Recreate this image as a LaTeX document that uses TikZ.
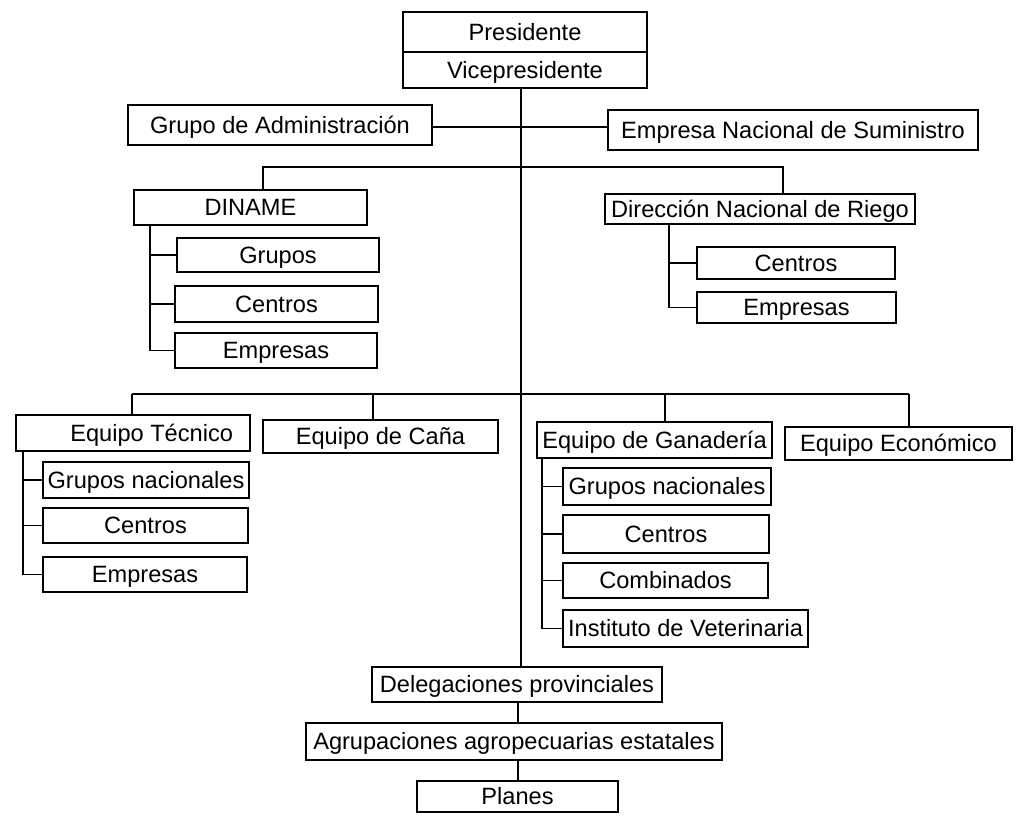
\documentclass[tikz,border=0pt]{standalone}
\usepackage{fontspec}
\newfontfamily\boxfont{Liberation Sans}
\begin{document}
\begin{tikzpicture}[x=1pt,y=-1pt,
  box/.style={draw, line width=1.6pt, inner sep=1pt, outer sep=0pt, anchor=north west,
    text height=17pt, text depth=1pt,
    font={\boxfont\fontsize{23.6}{28}\selectfont}},
  link/.style={line width=1.8pt}]
\useasboundingbox (0,0) rectangle (1017,817);

% top of the hierarchy
\node[box, minimum width=244, minimum height=40] (pres) at (403,12) {Presidente};
\node[box, minimum width=244, minimum height=36] (vice) at (403,52) {Vicepresidente};
\node[box, minimum width=304, minimum height=40] (gadm) at (128,105) {Grupo de Administración};
\node[box, minimum width=370, minimum height=40] (emp) at (608,110) {Empresa Nacional de Suministro};

% DINAME branch
\node[box, minimum width=233, minimum height=35] (din) at (134,190) {DINAME};
\node[box, minimum width=202, minimum height=34] (dgr) at (177,238) {Grupos};
\node[box, minimum width=203, minimum height=36] (dce) at (175,286) {Centros};
\node[box, minimum width=202, minimum height=35] (dem) at (175,333) {Empresas};

% irrigation branch
\node[box, minimum width=310, minimum height=30] (rie) at (605,194) {Dirección Nacional de Riego};
\node[box, minimum width=198, minimum height=32] (rce) at (697,247) {Centros};
\node[box, minimum width=199, minimum height=31] (rem) at (697,292) {Empresas};

% working teams
\node[box, inner xsep=17pt, text width=200, align=flush right, minimum height=36] (tec) at (16,415) {Equipo Técnico};
\node[box, minimum width=235, minimum height=33] (cana) at (263,420) {Equipo de Caña};
\node[box, minimum width=235, minimum height=36] (gan) at (537,422) {Equipo de Ganadería};
\node[box, minimum width=227, minimum height=33] (eco) at (785,427) {Equipo Económico};

\node[box, minimum width=206, minimum height=36] (tgn) at (43,462) {Grupos nacionales};
\node[box, minimum width=205, minimum height=35] (tce) at (43,508) {Centros};
\node[box, minimum width=204, minimum height=35] (tem) at (43,557) {Empresas};

\node[box, minimum width=208, minimum height=37] (ggn) at (563,468) {Grupos nacionales};
\node[box, minimum width=206, minimum height=38] (gce) at (563,515) {Centros};
\node[box, minimum width=205, minimum height=35] (gco) at (563,563) {Combinados};
\node[box, minimum width=245, minimum height=37] (gin) at (563,610) {Instituto de Veterinaria};

% lower levels
\node[box, minimum width=290, minimum height=35] (del) at (372,667) {Delegaciones provinciales};
\node[box, minimum width=416, minimum height=37] (agr) at (306,723) {Agrupaciones agropecuarias estatales};
\node[box, minimum width=201, minimum height=31] (pla) at (417,781) {Planes};

% junction points
\coordinate (tk) at (521,88);
\coordinate (j1) at (521,127);
\coordinate (b2l) at (263,167);
\coordinate (b2r) at (783,167);
\coordinate (ds) at (150,225);
\coordinate (rs) at (669,224);
\coordinate (v1) at (132,394);
\coordinate (v2) at (373,394);
\coordinate (v3) at (665,394);
\coordinate (v4) at (909,394);
\coordinate (ts) at (23,451);
\coordinate (gs) at (542,458);
\coordinate (tb) at (518,702);

% main trunk
\draw[link] (tk) -- (tk |- del.north);
\draw[link] (tb) -- (tb |- agr.north);
\draw[link] (tb |- agr.south) -- (tb |- pla.north);

% staff units beside the top
\draw[link] (gadm.east |- j1) -- (emp.west |- j1);

% national directorates
\draw[link] (b2l |- din.north) |- (b2r) -- (b2r |- rie.north);
\draw[link] (ds) |- (dgr.west);
\draw[link] (ds) |- (dce.west);
\draw[link] (ds) |- (dem.west);
\draw[link] (rs) |- (rce.west);
\draw[link] (rs) |- (rem.west);

% teams
\draw[link] (v1) -- (v4);
\draw[link] (v1) -- (v1 |- tec.north);
\draw[link] (v2) -- (v2 |- cana.north);
\draw[link] (v3) -- (v3 |- gan.north);
\draw[link] (v4) -- (v4 |- eco.north);
\draw[link] (ts) |- (tgn.west);
\draw[link] (ts) |- (tce.west);
\draw[link] (ts) |- (tem.west);
\draw[link] (gs) |- (ggn.west);
\draw[link] (gs) |- (gce.west);
\draw[link] (gs) |- (gco.west);
\draw[link] (gs) |- (gin.west);
\end{tikzpicture}
\end{document}
